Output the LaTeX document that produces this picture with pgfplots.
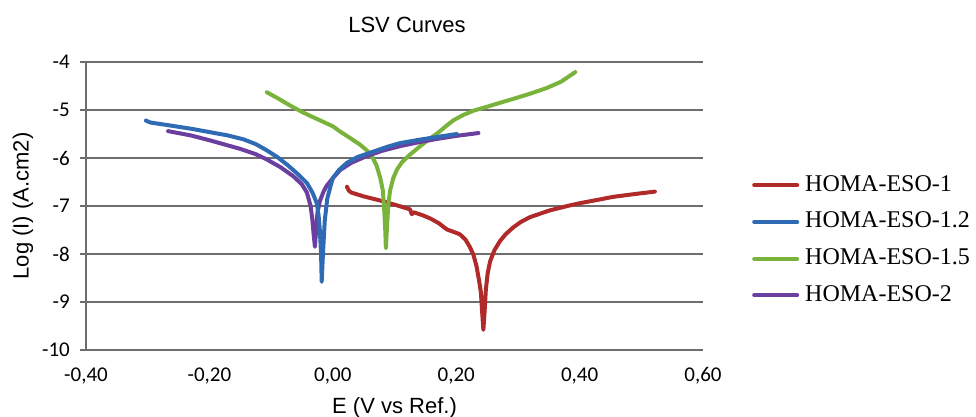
\documentclass[border=0pt]{standalone}
\usepackage{fontspec}
\setmainfont{Liberation Sans}
\newfontfamily\carlito{Carlito}
\newfontfamily\timesf{Liberation Serif}
\usepackage{pgfplots}
\pgfplotsset{compat=1.18}

\definecolor{cRed}{HTML}{B02A2A}
\definecolor{cBlue}{HTML}{2F6BB5}
\definecolor{cGreen}{HTML}{7AB33C}
\definecolor{cPurple}{HTML}{6B3FA0}
\definecolor{gridgray}{HTML}{6E6E6E}

\begin{document}
\begin{tikzpicture}
\path[use as bounding box] (-86pt,-67pt) rectangle (890pt,350pt);
\begin{axis}[
    scale only axis,
    width=617pt, height=288pt,
    xmin=-0.4, xmax=0.6,
    ymin=-10, ymax=-4,
    xtick={-0.4,-0.2,0,0.2,0.4,0.6},
    ytick={-10,-9,-8,-7,-6,-5,-4},
    axis lines*=left,
    x axis line style={draw=none},
    y axis line style={-, draw=gridgray, line width=2pt},
    ymajorgrids,
    major grid style={gridgray, line width=2pt},
    xtick style={draw=none},
    ytick style={gridgray, line width=1.5pt},
    tick align=outside,
    major tick length=6pt,
    x tick label style={font=\carlito\fontsize{21}{25}\selectfont,
        anchor=center, yshift=-20pt,
        /pgf/number format/fixed, /pgf/number format/fixed zerofill,
        /pgf/number format/precision=2, /pgf/number format/use comma,
        /pgf/number format/assume math mode=true},
    y tick label style={font=\carlito\fontsize{21}{25}\selectfont,
        anchor=east, inner sep=0pt, xshift=-10pt,
        /pgf/number format/assume math mode=true},
    xlabel={E (V vs Ref.)},
    xlabel style={at={(axis description cs:0.5,-0.2014)}, anchor=center,
        font=\fontsize{22}{26}\selectfont},
    ylabel={Log (I) (A.cm2)},
    ylabel style={at={(axis description cs:-0.1021,0.5)}, anchor=center,
        font=\fontsize{22}{26}\selectfont},
    title={LSV Curves},
    title style={at={(axis description cs:0.5203,1.1077)}, anchor=center,
        font=\fontsize{22}{26}\selectfont},
    legend style={at={(axis description cs:1.0794,0.6110)}, anchor=north west,
        draw=none, fill=none, inner sep=0pt, row sep=14.7pt, column sep=5pt,
        font=\timesf\fontsize{24}{28}\selectfont,
        nodes={text height=16pt, text depth=4pt, inner sep=1pt}},
    legend cell align=left,
    legend image code/.code={\draw[#1, line width=4pt, line cap=round] (0pt,0pt) -- (43pt,0pt);},
    every axis plot/.append style={line width=4pt, line join=round, line cap=round},
]

% legend entries in the reference order
\addlegendimage{cRed}
\addlegendentry{HOMA-ESO-1}
\addlegendimage{cBlue}
\addlegendentry{HOMA-ESO-1.2}
\addlegendimage{cGreen}
\addlegendentry{HOMA-ESO-1.5}
\addlegendimage{cPurple}
\addlegendentry{HOMA-ESO-2}

% HOMA-ESO-1
\addplot[cRed, forget plot] coordinates {
(0.023,-6.60) (0.026,-6.68) (0.030,-6.72) (0.050,-6.80) (0.081,-6.90)
(0.105,-6.99) (0.125,-7.07) (0.128,-7.17) (0.131,-7.13) (0.145,-7.19)
(0.158,-7.26) (0.172,-7.36) (0.185,-7.49) (0.196,-7.54) (0.206,-7.59)
(0.215,-7.70) (0.222,-7.85) (0.228,-8.02) (0.233,-8.26) (0.237,-8.55)
(0.240,-8.80) (0.242,-9.20) (0.244,-9.58) (0.246,-9.20) (0.248,-8.75)
(0.251,-8.40) (0.255,-8.15) (0.262,-7.92) (0.271,-7.73) (0.280,-7.59)
(0.292,-7.45) (0.305,-7.33) (0.320,-7.23) (0.352,-7.09) (0.380,-7.00)
(0.401,-6.94) (0.430,-6.87) (0.454,-6.81) (0.490,-6.75) (0.522,-6.70)
};

% HOMA-ESO-1.5
\addplot[cGreen, forget plot] coordinates {
(-0.107,-4.63) (-0.090,-4.75) (-0.070,-4.90) (-0.050,-5.04) (-0.037,-5.12)
(-0.020,-5.22) (0.000,-5.34) (0.012,-5.45) (0.030,-5.60) (0.045,-5.73)
(0.055,-5.84) (0.064,-5.98) (0.071,-6.16) (0.077,-6.42) (0.081,-6.67)
(0.083,-7.00) (0.085,-7.50) (0.086,-7.88) (0.088,-7.40) (0.090,-6.95)
(0.093,-6.67) (0.098,-6.42) (0.104,-6.24) (0.112,-6.09) (0.125,-5.93)
(0.141,-5.76) (0.158,-5.59) (0.172,-5.46) (0.184,-5.33) (0.196,-5.21)
(0.212,-5.10) (0.229,-5.01) (0.248,-4.94) (0.271,-4.85) (0.292,-4.77)
(0.320,-4.66) (0.347,-4.54) (0.370,-4.41) (0.393,-4.21)
};

% HOMA-ESO-2
\addplot[cPurple, forget plot] coordinates {
(-0.267,-5.44) (-0.230,-5.53) (-0.200,-5.63) (-0.175,-5.72) (-0.150,-5.81)
(-0.125,-5.92) (-0.107,-6.03) (-0.085,-6.19) (-0.064,-6.38) (-0.050,-6.55)
(-0.042,-6.72) (-0.036,-7.00) (-0.033,-7.30) (-0.031,-7.60) (-0.029,-7.85)
(-0.027,-7.50) (-0.025,-7.15) (-0.021,-6.90) (-0.015,-6.70) (-0.010,-6.58)
(0.000,-6.42) (0.012,-6.25) (0.030,-6.10) (0.055,-5.96) (0.080,-5.85)
(0.110,-5.75) (0.140,-5.67) (0.170,-5.60) (0.200,-5.54) (0.236,-5.48)
};

% HOMA-ESO-1.2
\addplot[cBlue, forget plot] coordinates {
(-0.303,-5.22) (-0.296,-5.26) (-0.260,-5.33) (-0.230,-5.39) (-0.200,-5.46)
(-0.170,-5.53) (-0.145,-5.61) (-0.125,-5.71) (-0.107,-5.84) (-0.090,-5.98)
(-0.074,-6.14) (-0.058,-6.32) (-0.042,-6.52) (-0.033,-6.72) (-0.026,-6.94)
(-0.023,-7.20) (-0.021,-7.50) (-0.019,-8.00) (-0.018,-8.58) (-0.016,-8.00)
(-0.013,-7.30) (-0.009,-6.85) (-0.004,-6.60) (0.000,-6.42) (0.010,-6.25)
(0.023,-6.10) (0.040,-5.98) (0.065,-5.87) (0.090,-5.76) (0.109,-5.69)
(0.140,-5.62) (0.170,-5.56) (0.201,-5.50)
};

\end{axis}
\end{tikzpicture}
\end{document}
